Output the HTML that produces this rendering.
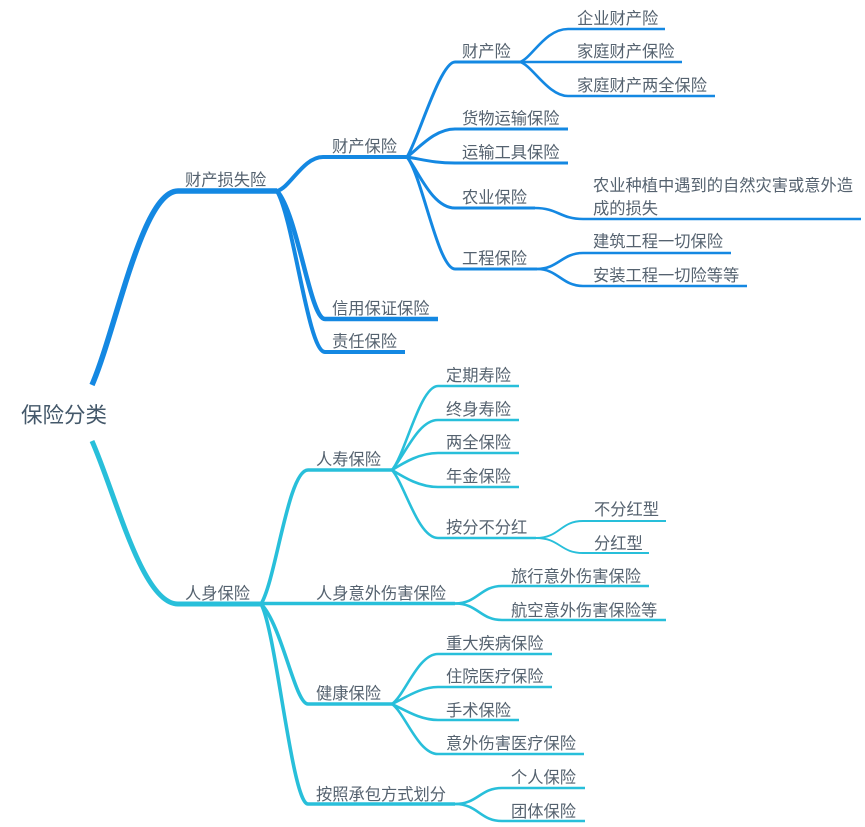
<!DOCTYPE html>
<html><head><meta charset="utf-8">
<style>
html,body{margin:0;padding:0;background:#fff;width:865px;height:827px;overflow:hidden}
svg{display:block}
text{font-family:"Liberation Sans","Noto Sans CJK SC",sans-serif;font-size:16.25px;fill:#55626f}
path{fill:none}
.b{stroke:#1488e2}
.c{stroke:#28bfda}
</style></head><body>
<svg width="865" height="827" viewBox="0 0 865 827" xmlns="http://www.w3.org/2000/svg">
<g class="b">
<path stroke-width="5.5" d="M92 385 C116 330 142 191 178 191 L277 191"/>
<path stroke-width="4" d="M277 191 C290 188 303 157 323 157 L407 157"/>
<path stroke-width="4.5" d="M277 191 C298 215 310 319 325 319 L438 319"/>
<path stroke-width="4" d="M277 191 C294 220 308 352 325 352 L405 352"/>
<path stroke-width="3" d="M407 157 C418 140 440 62 455 62 L520 62"/>
<path stroke-width="3" d="M407 157 C420 147 435 129 455 129 L568 129"/>
<path stroke-width="3" d="M407 157 C425 160 435 163 455 163 L568 163"/>
<path stroke-width="3" d="M407 157 C418 170 432 208 455 208 L535 208"/>
<path stroke-width="3" d="M407 157 C422 175 438 269 455 269 L537 269"/>
<path stroke-width="2.6" d="M520 62 C532 58 545 29 568 29 L665 29"/>
<path stroke-width="2.6" d="M520 62 L682 62"/>
<path stroke-width="2.6" d="M520 62 C532 65 548 96 568 96 L715 96"/>
<path stroke-width="2.6" d="M535 208 C558 208 560 219 583 219 L861 219"/>
<path stroke-width="2.6" d="M537 269 C558 269 562 253 583 253 L731 253"/>
<path stroke-width="2.6" d="M537 269 C558 269 562 286 583 286 L747 286"/>
</g>
<g class="c">
<path stroke-width="5" d="M92 441 C116 495 142 604 178 604 L261 604"/>
<path stroke-width="3.6" d="M261 604 C276 580 288 470 308 470 L392 470"/>
<path stroke-width="3.4" d="M261 603.500 L455 603.500"/>
<path stroke-width="3.6" d="M261 604 C282 625 295 704 308 704 L392 704"/>
<path stroke-width="3.6" d="M261 604 C276 630 292 804 308 804 L455 804"/>
<path stroke-width="2.6" d="M392 470 C405 455 420 386 438 386 L519 386"/>
<path stroke-width="2.6" d="M392 470 C405 455 418 420 438 420 L519 420"/>
<path stroke-width="2.6" d="M392 470 C405 462 420 453 438 453 L519 453"/>
<path stroke-width="2.6" d="M392 470 C405 478 420 487 438 487 L519 487"/>
<path stroke-width="2.6" d="M392 470 C405 485 418 538 438 538 L536 538"/>
<path stroke-width="1.9" d="M536 538 C560 538 560 521 583 521 L666 521"/>
<path stroke-width="1.9" d="M536 538 C560 538 560 553 583 553 L649 553"/>
<path stroke-width="2.6" d="M455 603.500 C478 603.500 480 586 502 586 L649 586"/>
<path stroke-width="2.6" d="M455 603.500 C478 603.500 480 620 502 620 L666 620"/>
<path stroke-width="2.6" d="M392 704 C405 695 418 654 438 654 L552 654"/>
<path stroke-width="2.6" d="M392 704 C405 698 420 687 438 687 L552 687"/>
<path stroke-width="2.6" d="M392 704 C405 710 420 720 438 720 L519 720"/>
<path stroke-width="2.6" d="M392 704 C405 713 418 754 438 754 L584 754"/>
<path stroke-width="2.6" d="M455 804 C478 804 480 788 502 788 L585 788"/>
<path stroke-width="2.6" d="M455 804 C478 804 480 821 502 821 L585 821"/>
</g>
<text x="21" y="422.500" style="font-size:21.5px;fill:#44586a">保险分类</text>
<g transform="translate(0,1)">
<text x="185" y="184.500">财产损失险</text>
<text x="332" y="151">财产保险</text>
<text x="332" y="313">信用保证保险</text>
<text x="332" y="346">责任保险</text>
<text x="462" y="56">财产险</text>
<text x="462" y="123">货物运输保险</text>
<text x="462" y="157">运输工具保险</text>
<text x="462" y="202">农业保险</text>
<text x="462" y="263">工程保险</text>
<text x="577" y="23">企业财产险</text>
<text x="577" y="56">家庭财产保险</text>
<text x="577" y="90">家庭财产两全保险</text>
<text x="593" y="190">农业种植中遇到的自然灾害或意外造</text>
<text x="593" y="213">成的损失</text>
<text x="593" y="246">建筑工程一切保险</text>
<text x="593" y="280">安装工程一切险等等</text>
<text x="185" y="598">人身保险</text>
<text x="316" y="464">人寿保险</text>
<text x="316" y="598">人身意外伤害保险</text>
<text x="316" y="698">健康保险</text>
<text x="316" y="799">按照承包方式划分</text>
<text x="446" y="380">定期寿险</text>
<text x="446" y="414">终身寿险</text>
<text x="446" y="447">两全保险</text>
<text x="446" y="481">年金保险</text>
<text x="446" y="532">按分不分红</text>
<text x="594" y="514">不分红型</text>
<text x="594" y="548">分红型</text>
<text x="511" y="581">旅行意外伤害保险</text>
<text x="511" y="615">航空意外伤害保险等</text>
<text x="446" y="648">重大疾病保险</text>
<text x="446" y="681">住院医疗保险</text>
<text x="446" y="715">手术保险</text>
<text x="446" y="748">意外伤害医疗保险</text>
<text x="511" y="782">个人保险</text>
<text x="511" y="816">团体保险</text>
</g>
</svg>
</body></html>
